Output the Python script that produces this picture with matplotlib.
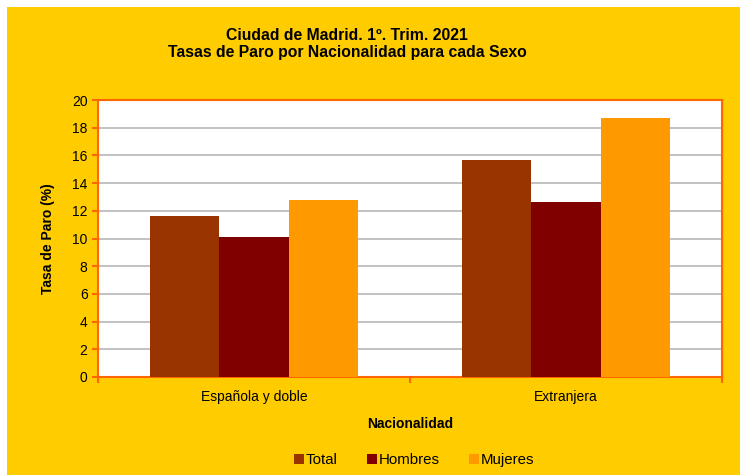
import numpy as np
import matplotlib
matplotlib.use("Agg")
import matplotlib.pyplot as plt
from matplotlib.patches import Rectangle

plt.rcParams['font.family'] = ['Liberation Sans', 'DejaVu Sans']

# data
categorias = ['Española y doble', 'Extranjera']
series = ['Total', 'Hombres', 'Mujeres']
total = [11.6, 15.7]
hombres = [10.1, 12.6]
mujeres = [12.8, 18.7]
colores = ['#993300', '#800000', '#FF9900']

fig = plt.figure(figsize=(7.4, 4.75), dpi=100)
fig.patch.set_facecolor('white')
# yellow chart area with thin white margin top/left
fig.patches.append(Rectangle((7/740, 0), 1, 1 - 7/475, transform=fig.transFigure,
                             facecolor='#FFCC00', edgecolor='none', zorder=-10))

ax = fig.add_axes([98/740, 1 - 377/475, 624/740, 277/475])
ax.set_facecolor('white')

x = np.arange(len(categorias))
w = 0.222
for i, (vals, col, lab) in enumerate(zip([total, hombres, mujeres], colores, series)):
    ax.bar(x + (i - 1) * w, vals, width=w, color=col, label=lab, zorder=3)

ax.set_xlim(-0.5, 1.5)
ax.set_ylim(0, 20)
ax.set_yticks(range(0, 21, 2))
ax.set_xticks(x)
ax.set_xticklabels(categorias, fontsize=10)
ax.set_xticks([-0.5, 0.5, 1.5], minor=True)
ax.tick_params(axis='x', which='major', length=0, pad=9)
ax.tick_params(axis='x', which='minor', length=4, color='#FF6600', width=1.5)
ax.tick_params(axis='y', length=4, color='#FF6600', width=1.5, labelsize=10)
ax.yaxis.grid(True, color='#B8B8B8', linewidth=1.2, zorder=0)
for s in ax.spines.values():
    s.set_color('#FF6600')
    s.set_linewidth(1.5)

ax.set_ylabel('Tasa de Paro (%)', fontsize=10, fontweight='bold', labelpad=12)
ax.set_xlabel('Nacionalidad', fontsize=10, fontweight='bold', labelpad=10)

fig.text(347/740, 1 - 36/475, 'Ciudad de Madrid. 1º. Trim. 2021', ha='center', va='center',
         fontsize=11.3, fontweight='bold')
fig.text(347/740, 1 - 53/475, 'Tasas de Paro por Nacionalidad para cada Sexo', ha='center',
         va='center', fontsize=11.3, fontweight='bold')

fig.legend(loc='center', bbox_to_anchor=(414/740, 1 - 460/475), ncol=3, frameon=False,
           fontsize=10.8, handlelength=0.65, handleheight=0.65, handletextpad=0.1,
           columnspacing=2.0)

fig.savefig('out.png', dpi=100, facecolor=fig.get_facecolor())
